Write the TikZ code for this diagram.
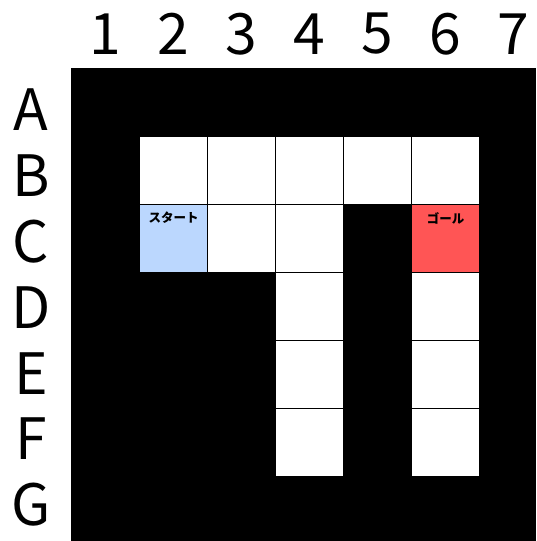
\documentclass[tikz,border=0pt]{standalone}
\usepackage{fontspec}
\setmainfont{Noto Sans CJK JP}
\usetikzlibrary{positioning}
\definecolor{startblue}{HTML}{BBD7FE}
\definecolor{goalred}{HTML}{FF5555}

\begin{document}
\begin{tikzpicture}[x=1pt, y=-1pt,
  board/.style={fill=black},
  cell/.style={draw=black, line width=1.2pt, fill=white, minimum size=68pt,
    inner sep=0pt, anchor=north west},
  axislab/.style={font=\fontsize{57}{57}\selectfont, inner sep=0pt},
  celltag/.style={font=\fontsize{12.5}{12.5}\selectfont\bfseries, inner sep=0pt}
]
\useasboundingbox (0,0) rectangle (536,541);
\fill[board] (71,68) rectangle (536,541);

% open cells of the maze
\foreach \n/\c/\r in {B2/2/2, B3/3/2, B4/4/2, B5/5/2, B6/6/2,
                      C3/3/3, C4/4/3, D4/4/4, E4/4/5, F4/4/6,
                      D6/6/4, E6/6/5, F6/6/6}
  \node[cell] (\n) at ({71+68*(\c-1)},{68+68*(\r-1)}) {};

\node[cell, fill=startblue] (C2) at (139,204) {};
\node[cell, fill=goalred] (C6) at (411,204) {};
\node[celltag, below=8pt of C2.north] (start) {スタート};
\node[celltag, below=8pt of C6.north] (goal) {ゴール};

% column and row labels
\foreach \t [count=\i] in {1,...,7}
  \node[axislab] (col\t) at ({105+68*(\i-1)},34) {\t};
\foreach \t [count=\i] in {A,B,C,D,E,F,G}
  \node[axislab] (row\t) at (31,{110+65.8*(\i-1)}) {\t};
\end{tikzpicture}
\end{document}
